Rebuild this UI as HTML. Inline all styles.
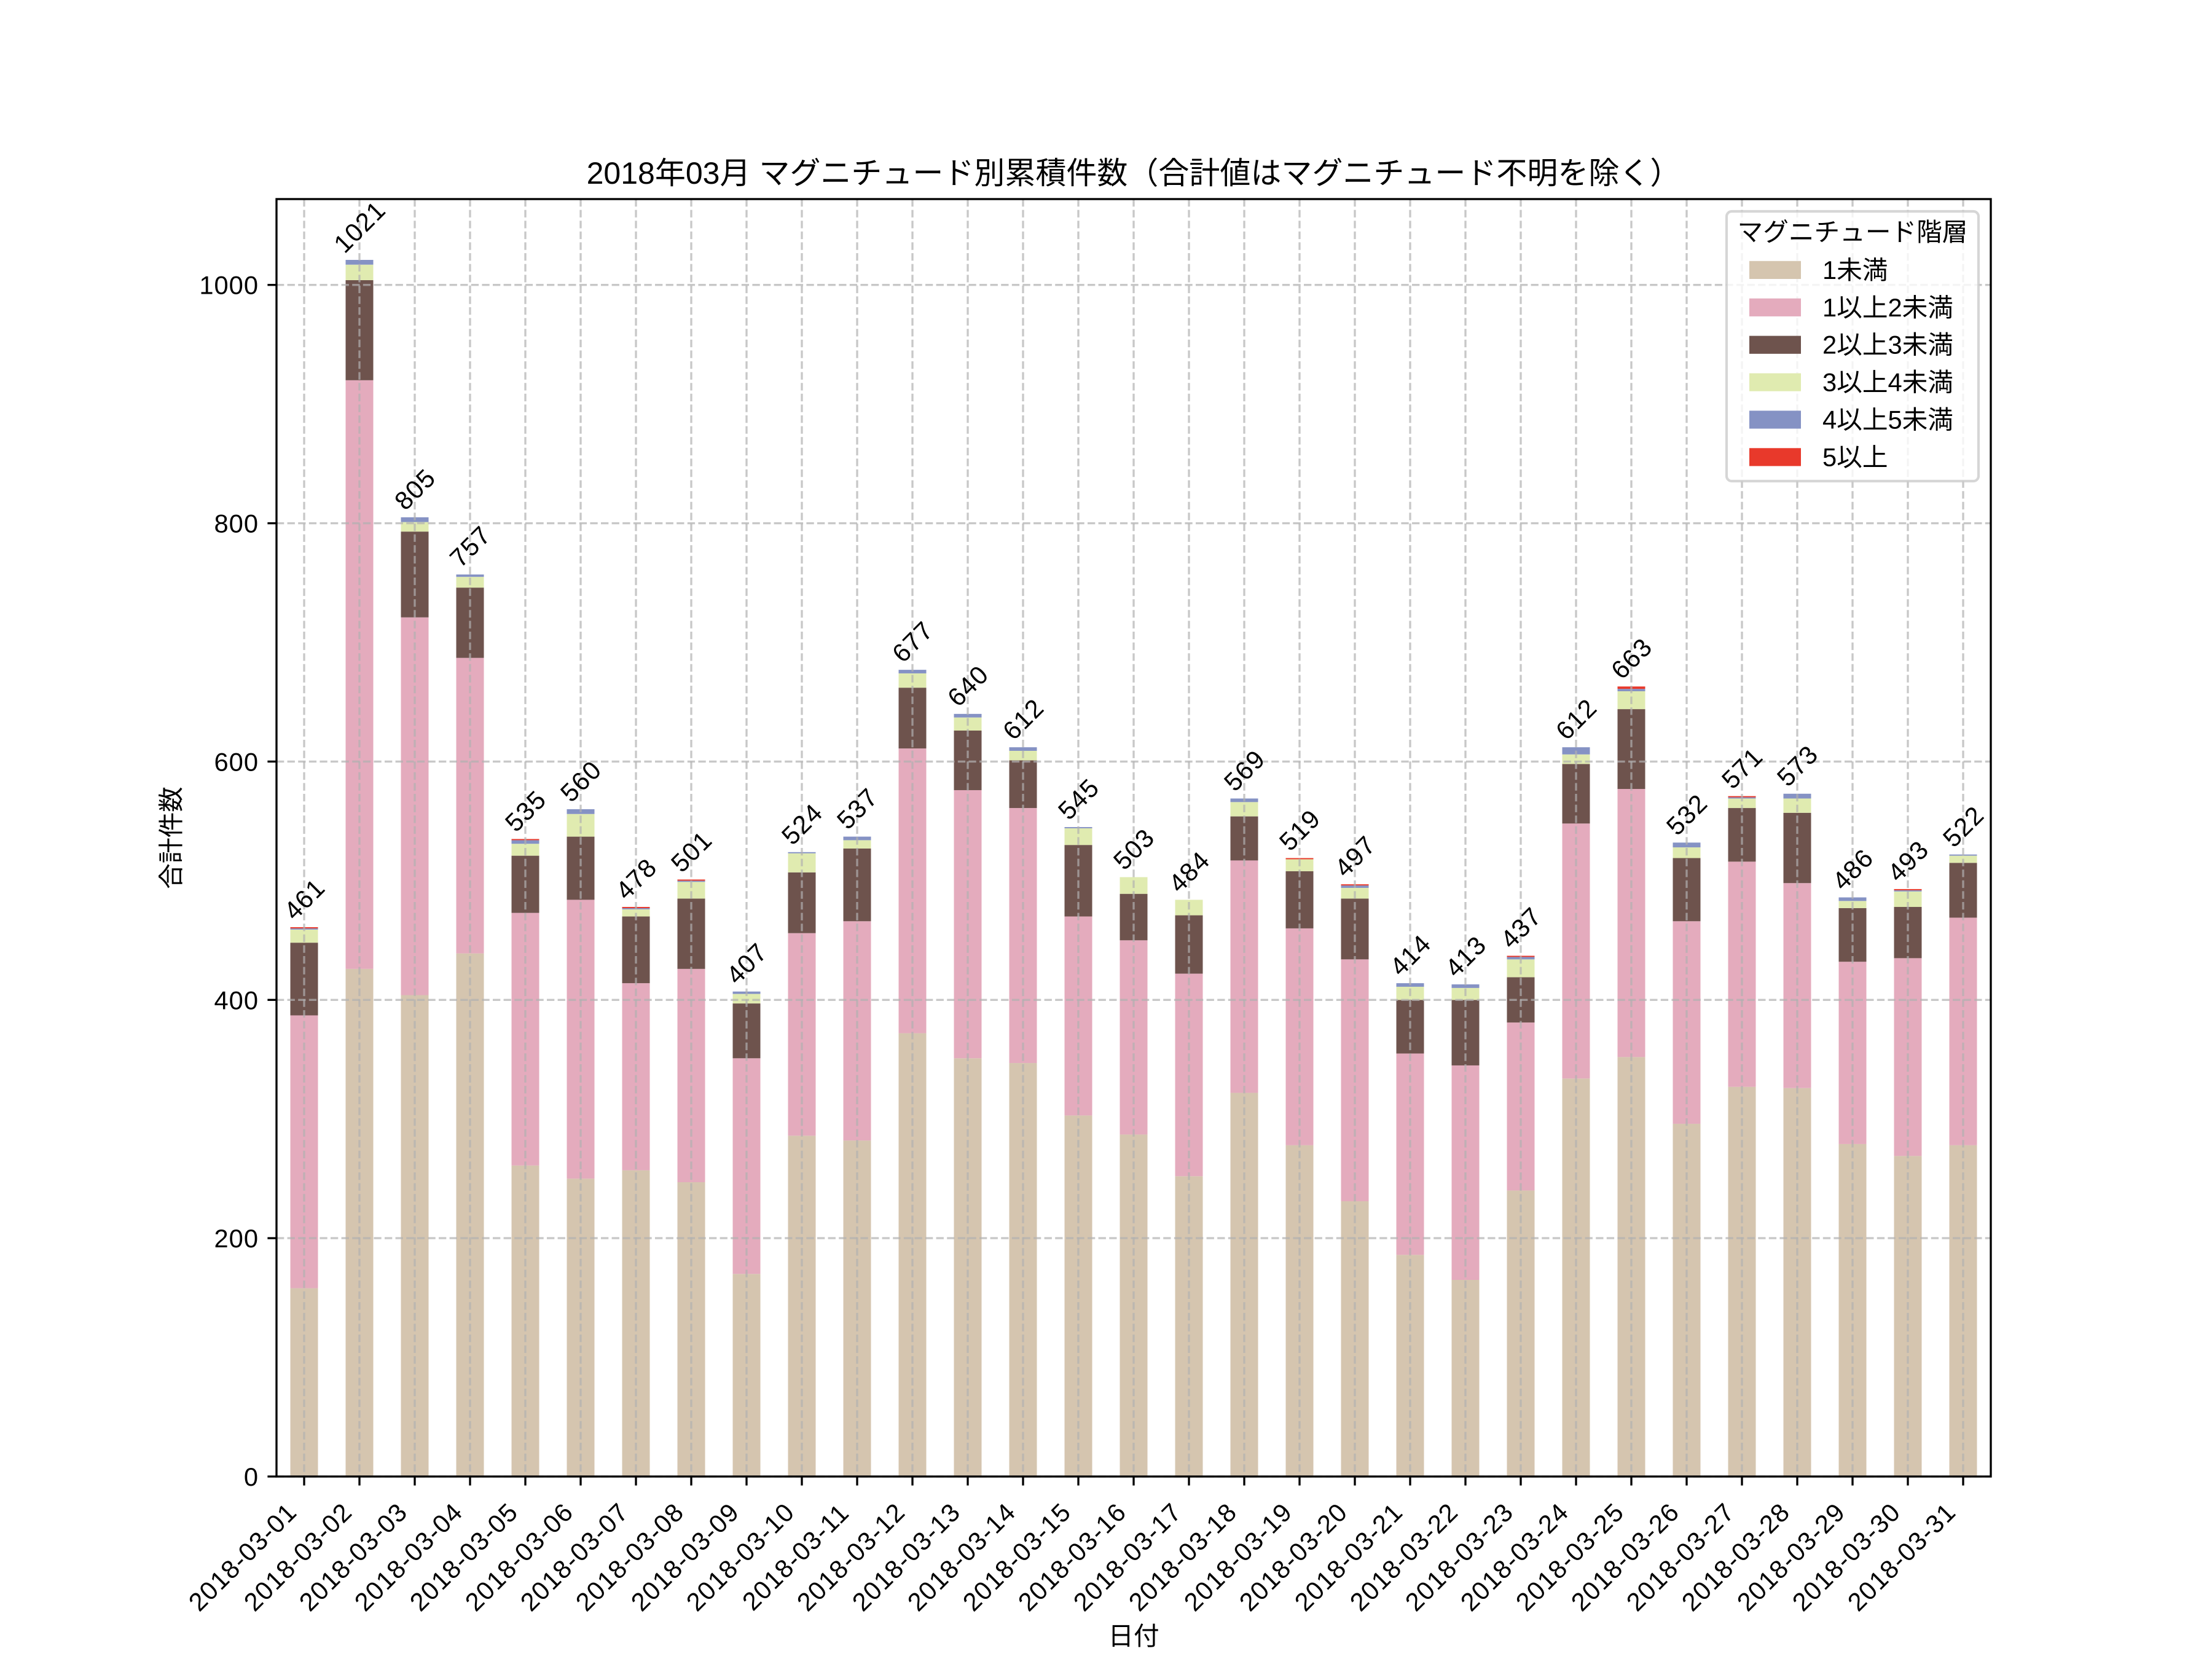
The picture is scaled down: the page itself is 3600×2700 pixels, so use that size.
<!DOCTYPE html>
<html><head><meta charset="utf-8"><style>
html,body{margin:0;padding:0;background:#fff;}
svg{display:block;}
text{font-family:"Liberation Sans","Noto Sans CJK JP",sans-serif;fill:#000;}
.a{fill:#d5c5af}.b{fill:#e4abbd}.c{fill:#6e534d}.d{fill:#e0ebb0}.e{fill:#8592c4}.f{fill:#e8392b}
.g line{stroke:#b0b0b0;stroke-opacity:.7;stroke-width:3.33;stroke-dasharray:12.3 5.3;}
.t line{stroke:#000;stroke-width:3.33;}
.yl text{font-size:41.67px;text-anchor:end;letter-spacing:1px;}
.xl text{font-size:41.67px;text-anchor:middle;letter-spacing:1.5px;}
.an text{font-size:41.67px;text-anchor:middle;letter-spacing:1.5px;}
</style></head><body>
<svg width="3600" height="2700" viewBox="0 0 3600 2700" xmlns="http://www.w3.org/2000/svg">
<rect x="0" y="0" width="3600" height="2700" fill="#fff"/>
<!-- bars -->
<g transform="matrix(90 0 0 -1.9393 495 2403)">
<g transform="translate(0,0)"><rect class="a" x="-0.25" y="0" width="0.5" height="158"/><rect class="b" x="-0.25" y="158" width="0.5" height="229"/><rect class="c" x="-0.25" y="387" width="0.5" height="61"/><rect class="d" x="-0.25" y="448" width="0.5" height="11"/><rect class="e" x="-0.25" y="459" width="0.5" height="1"/><rect class="f" x="-0.25" y="460" width="0.5" height="1"/></g>
<g transform="translate(1,0)"><rect class="a" x="-0.25" y="0" width="0.5" height="426"/><rect class="b" x="-0.25" y="426" width="0.5" height="494"/><rect class="c" x="-0.25" y="920" width="0.5" height="84"/><rect class="d" x="-0.25" y="1004" width="0.5" height="13"/><rect class="e" x="-0.25" y="1017" width="0.5" height="4"/></g>
<g transform="translate(2,0)"><rect class="a" x="-0.25" y="0" width="0.5" height="404"/><rect class="b" x="-0.25" y="404" width="0.5" height="317"/><rect class="c" x="-0.25" y="721" width="0.5" height="72"/><rect class="d" x="-0.25" y="793" width="0.5" height="8"/><rect class="e" x="-0.25" y="801" width="0.5" height="4"/></g>
<g transform="translate(3,0)"><rect class="a" x="-0.25" y="0" width="0.5" height="439"/><rect class="b" x="-0.25" y="439" width="0.5" height="248"/><rect class="c" x="-0.25" y="687" width="0.5" height="59"/><rect class="d" x="-0.25" y="746" width="0.5" height="9"/><rect class="e" x="-0.25" y="755" width="0.5" height="2"/></g>
<g transform="translate(4,0)"><rect class="a" x="-0.25" y="0" width="0.5" height="261"/><rect class="b" x="-0.25" y="261" width="0.5" height="212"/><rect class="c" x="-0.25" y="473" width="0.5" height="48"/><rect class="d" x="-0.25" y="521" width="0.5" height="10"/><rect class="e" x="-0.25" y="531" width="0.5" height="3"/><rect class="f" x="-0.25" y="534" width="0.5" height="1"/></g>
<g transform="translate(5,0)"><rect class="a" x="-0.25" y="0" width="0.5" height="250"/><rect class="b" x="-0.25" y="250" width="0.5" height="234"/><rect class="c" x="-0.25" y="484" width="0.5" height="53"/><rect class="d" x="-0.25" y="537" width="0.5" height="19"/><rect class="e" x="-0.25" y="556" width="0.5" height="4"/></g>
<g transform="translate(6,0)"><rect class="a" x="-0.25" y="0" width="0.5" height="257"/><rect class="b" x="-0.25" y="257" width="0.5" height="157"/><rect class="c" x="-0.25" y="414" width="0.5" height="56"/><rect class="d" x="-0.25" y="470" width="0.5" height="6"/><rect class="e" x="-0.25" y="476" width="0.5" height="1"/><rect class="f" x="-0.25" y="477" width="0.5" height="1"/></g>
<g transform="translate(7,0)"><rect class="a" x="-0.25" y="0" width="0.5" height="247"/><rect class="b" x="-0.25" y="247" width="0.5" height="179"/><rect class="c" x="-0.25" y="426" width="0.5" height="59"/><rect class="d" x="-0.25" y="485" width="0.5" height="14"/><rect class="e" x="-0.25" y="499" width="0.5" height="1"/><rect class="f" x="-0.25" y="500" width="0.5" height="1"/></g>
<g transform="translate(8,0)"><rect class="a" x="-0.25" y="0" width="0.5" height="170"/><rect class="b" x="-0.25" y="170" width="0.5" height="181"/><rect class="c" x="-0.25" y="351" width="0.5" height="46"/><rect class="d" x="-0.25" y="397" width="0.5" height="8"/><rect class="e" x="-0.25" y="405" width="0.5" height="2"/></g>
<g transform="translate(9,0)"><rect class="a" x="-0.25" y="0" width="0.5" height="286"/><rect class="b" x="-0.25" y="286" width="0.5" height="170"/><rect class="c" x="-0.25" y="456" width="0.5" height="51"/><rect class="d" x="-0.25" y="507" width="0.5" height="16"/><rect class="e" x="-0.25" y="523" width="0.5" height="1"/></g>
<g transform="translate(10,0)"><rect class="a" x="-0.25" y="0" width="0.5" height="282"/><rect class="b" x="-0.25" y="282" width="0.5" height="184"/><rect class="c" x="-0.25" y="466" width="0.5" height="61"/><rect class="d" x="-0.25" y="527" width="0.5" height="7"/><rect class="e" x="-0.25" y="534" width="0.5" height="3"/></g>
<g transform="translate(11,0)"><rect class="a" x="-0.25" y="0" width="0.5" height="372"/><rect class="b" x="-0.25" y="372" width="0.5" height="239"/><rect class="c" x="-0.25" y="611" width="0.5" height="51"/><rect class="d" x="-0.25" y="662" width="0.5" height="12"/><rect class="e" x="-0.25" y="674" width="0.5" height="3"/></g>
<g transform="translate(12,0)"><rect class="a" x="-0.25" y="0" width="0.5" height="351"/><rect class="b" x="-0.25" y="351" width="0.5" height="225"/><rect class="c" x="-0.25" y="576" width="0.5" height="50"/><rect class="d" x="-0.25" y="626" width="0.5" height="11"/><rect class="e" x="-0.25" y="637" width="0.5" height="3"/></g>
<g transform="translate(13,0)"><rect class="a" x="-0.25" y="0" width="0.5" height="347"/><rect class="b" x="-0.25" y="347" width="0.5" height="214"/><rect class="c" x="-0.25" y="561" width="0.5" height="40"/><rect class="d" x="-0.25" y="601" width="0.5" height="8"/><rect class="e" x="-0.25" y="609" width="0.5" height="3"/></g>
<g transform="translate(14,0)"><rect class="a" x="-0.25" y="0" width="0.5" height="303"/><rect class="b" x="-0.25" y="303" width="0.5" height="167"/><rect class="c" x="-0.25" y="470" width="0.5" height="60"/><rect class="d" x="-0.25" y="530" width="0.5" height="14"/><rect class="e" x="-0.25" y="544" width="0.5" height="1"/></g>
<g transform="translate(15,0)"><rect class="a" x="-0.25" y="0" width="0.5" height="287"/><rect class="b" x="-0.25" y="287" width="0.5" height="163"/><rect class="c" x="-0.25" y="450" width="0.5" height="39"/><rect class="d" x="-0.25" y="489" width="0.5" height="14"/></g>
<g transform="translate(16,0)"><rect class="a" x="-0.25" y="0" width="0.5" height="252"/><rect class="b" x="-0.25" y="252" width="0.5" height="170"/><rect class="c" x="-0.25" y="422" width="0.5" height="49"/><rect class="d" x="-0.25" y="471" width="0.5" height="13"/></g>
<g transform="translate(17,0)"><rect class="a" x="-0.25" y="0" width="0.5" height="322"/><rect class="b" x="-0.25" y="322" width="0.5" height="195"/><rect class="c" x="-0.25" y="517" width="0.5" height="37"/><rect class="d" x="-0.25" y="554" width="0.5" height="12"/><rect class="e" x="-0.25" y="566" width="0.5" height="3"/></g>
<g transform="translate(18,0)"><rect class="a" x="-0.25" y="0" width="0.5" height="278"/><rect class="b" x="-0.25" y="278" width="0.5" height="182"/><rect class="c" x="-0.25" y="460" width="0.5" height="48"/><rect class="d" x="-0.25" y="508" width="0.5" height="10"/><rect class="f" x="-0.25" y="518" width="0.5" height="1"/></g>
<g transform="translate(19,0)"><rect class="a" x="-0.25" y="0" width="0.5" height="231"/><rect class="b" x="-0.25" y="231" width="0.5" height="203"/><rect class="c" x="-0.25" y="434" width="0.5" height="51"/><rect class="d" x="-0.25" y="485" width="0.5" height="9"/><rect class="e" x="-0.25" y="494" width="0.5" height="2"/><rect class="f" x="-0.25" y="496" width="0.5" height="1"/></g>
<g transform="translate(20,0)"><rect class="a" x="-0.25" y="0" width="0.5" height="186"/><rect class="b" x="-0.25" y="186" width="0.5" height="169"/><rect class="c" x="-0.25" y="355" width="0.5" height="45"/><rect class="d" x="-0.25" y="400" width="0.5" height="11"/><rect class="e" x="-0.25" y="411" width="0.5" height="3"/></g>
<g transform="translate(21,0)"><rect class="a" x="-0.25" y="0" width="0.5" height="165"/><rect class="b" x="-0.25" y="165" width="0.5" height="180"/><rect class="c" x="-0.25" y="345" width="0.5" height="55"/><rect class="d" x="-0.25" y="400" width="0.5" height="10"/><rect class="e" x="-0.25" y="410" width="0.5" height="3"/></g>
<g transform="translate(22,0)"><rect class="a" x="-0.25" y="0" width="0.5" height="240"/><rect class="b" x="-0.25" y="240" width="0.5" height="141"/><rect class="c" x="-0.25" y="381" width="0.5" height="38"/><rect class="d" x="-0.25" y="419" width="0.5" height="15"/><rect class="e" x="-0.25" y="434" width="0.5" height="2"/><rect class="f" x="-0.25" y="436" width="0.5" height="1"/></g>
<g transform="translate(23,0)"><rect class="a" x="-0.25" y="0" width="0.5" height="334"/><rect class="b" x="-0.25" y="334" width="0.5" height="214"/><rect class="c" x="-0.25" y="548" width="0.5" height="50"/><rect class="d" x="-0.25" y="598" width="0.5" height="8"/><rect class="e" x="-0.25" y="606" width="0.5" height="6"/></g>
<g transform="translate(24,0)"><rect class="a" x="-0.25" y="0" width="0.5" height="352"/><rect class="b" x="-0.25" y="352" width="0.5" height="225"/><rect class="c" x="-0.25" y="577" width="0.5" height="67"/><rect class="d" x="-0.25" y="644" width="0.5" height="15"/><rect class="e" x="-0.25" y="659" width="0.5" height="2"/><rect class="f" x="-0.25" y="661" width="0.5" height="2"/></g>
<g transform="translate(25,0)"><rect class="a" x="-0.25" y="0" width="0.5" height="296"/><rect class="b" x="-0.25" y="296" width="0.5" height="170"/><rect class="c" x="-0.25" y="466" width="0.5" height="53"/><rect class="d" x="-0.25" y="519" width="0.5" height="9"/><rect class="e" x="-0.25" y="528" width="0.5" height="4"/></g>
<g transform="translate(26,0)"><rect class="a" x="-0.25" y="0" width="0.5" height="327"/><rect class="b" x="-0.25" y="327" width="0.5" height="189"/><rect class="c" x="-0.25" y="516" width="0.5" height="45"/><rect class="d" x="-0.25" y="561" width="0.5" height="8"/><rect class="e" x="-0.25" y="569" width="0.5" height="1"/><rect class="f" x="-0.25" y="570" width="0.5" height="1"/></g>
<g transform="translate(27,0)"><rect class="a" x="-0.25" y="0" width="0.5" height="326"/><rect class="b" x="-0.25" y="326" width="0.5" height="172"/><rect class="c" x="-0.25" y="498" width="0.5" height="59"/><rect class="d" x="-0.25" y="557" width="0.5" height="12"/><rect class="e" x="-0.25" y="569" width="0.5" height="4"/></g>
<g transform="translate(28,0)"><rect class="a" x="-0.25" y="0" width="0.5" height="279"/><rect class="b" x="-0.25" y="279" width="0.5" height="153"/><rect class="c" x="-0.25" y="432" width="0.5" height="45"/><rect class="d" x="-0.25" y="477" width="0.5" height="6"/><rect class="e" x="-0.25" y="483" width="0.5" height="3"/></g>
<g transform="translate(29,0)"><rect class="a" x="-0.25" y="0" width="0.5" height="269"/><rect class="b" x="-0.25" y="269" width="0.5" height="166"/><rect class="c" x="-0.25" y="435" width="0.5" height="43"/><rect class="d" x="-0.25" y="478" width="0.5" height="13"/><rect class="e" x="-0.25" y="491" width="0.5" height="1"/><rect class="f" x="-0.25" y="492" width="0.5" height="1"/></g>
<g transform="translate(30,0)"><rect class="a" x="-0.25" y="0" width="0.5" height="278"/><rect class="b" x="-0.25" y="278" width="0.5" height="191"/><rect class="c" x="-0.25" y="469" width="0.5" height="46"/><rect class="d" x="-0.25" y="515" width="0.5" height="6"/><rect class="e" x="-0.25" y="521" width="0.5" height="1"/></g>
</g>
<!-- grid -->
<g class="g">
<line x1="450" y1="2403" x2="3240" y2="2403"/>
<line x1="450" y1="2015.1" x2="3240" y2="2015.1"/>
<line x1="450" y1="1627.3" x2="3240" y2="1627.3"/>
<line x1="450" y1="1239.4" x2="3240" y2="1239.4"/>
<line x1="450" y1="851.6" x2="3240" y2="851.6"/>
<line x1="450" y1="463.7" x2="3240" y2="463.7"/>
<line x1="495" y1="324" x2="495" y2="2403"/><line x1="585" y1="324" x2="585" y2="2403"/><line x1="675" y1="324" x2="675" y2="2403"/><line x1="765" y1="324" x2="765" y2="2403"/><line x1="855" y1="324" x2="855" y2="2403"/><line x1="945" y1="324" x2="945" y2="2403"/><line x1="1035" y1="324" x2="1035" y2="2403"/><line x1="1125" y1="324" x2="1125" y2="2403"/><line x1="1215" y1="324" x2="1215" y2="2403"/><line x1="1305" y1="324" x2="1305" y2="2403"/><line x1="1395" y1="324" x2="1395" y2="2403"/><line x1="1485" y1="324" x2="1485" y2="2403"/><line x1="1575" y1="324" x2="1575" y2="2403"/><line x1="1665" y1="324" x2="1665" y2="2403"/><line x1="1755" y1="324" x2="1755" y2="2403"/><line x1="1845" y1="324" x2="1845" y2="2403"/><line x1="1935" y1="324" x2="1935" y2="2403"/><line x1="2025" y1="324" x2="2025" y2="2403"/><line x1="2115" y1="324" x2="2115" y2="2403"/><line x1="2205" y1="324" x2="2205" y2="2403"/><line x1="2295" y1="324" x2="2295" y2="2403"/><line x1="2385" y1="324" x2="2385" y2="2403"/><line x1="2475" y1="324" x2="2475" y2="2403"/><line x1="2565" y1="324" x2="2565" y2="2403"/><line x1="2655" y1="324" x2="2655" y2="2403"/><line x1="2745" y1="324" x2="2745" y2="2403"/><line x1="2835" y1="324" x2="2835" y2="2403"/><line x1="2925" y1="324" x2="2925" y2="2403"/><line x1="3015" y1="324" x2="3015" y2="2403"/><line x1="3105" y1="324" x2="3105" y2="2403"/><line x1="3195" y1="324" x2="3195" y2="2403"/>
</g>
<!-- annotations -->
<g class="an">
<text transform="translate(495,1462.8) rotate(-45)" y="15">461</text>
<text transform="translate(585,368.6) rotate(-45)" y="15">1021</text>
<text transform="translate(675,795.7) rotate(-45)" y="15">805</text>
<text transform="translate(765,888.8) rotate(-45)" y="15">757</text>
<text transform="translate(855,1319.3) rotate(-45)" y="15">535</text>
<text transform="translate(945,1270.8) rotate(-45)" y="15">560</text>
<text transform="translate(1035,1429.8) rotate(-45)" y="15">478</text>
<text transform="translate(1125,1385.2) rotate(-45)" y="15">501</text>
<text transform="translate(1215,1567.5) rotate(-45)" y="15">407</text>
<text transform="translate(1305,1340.6) rotate(-45)" y="15">524</text>
<text transform="translate(1395,1315.4) rotate(-45)" y="15">537</text>
<text transform="translate(1485,1043.9) rotate(-45)" y="15">677</text>
<text transform="translate(1575,1115.6) rotate(-45)" y="15">640</text>
<text transform="translate(1665,1169.9) rotate(-45)" y="15">612</text>
<text transform="translate(1755,1299.9) rotate(-45)" y="15">545</text>
<text transform="translate(1845,1381.3) rotate(-45)" y="15">503</text>
<text transform="translate(1935,1418.2) rotate(-45)" y="15">484</text>
<text transform="translate(2025,1253.3) rotate(-45)" y="15">569</text>
<text transform="translate(2115,1350.3) rotate(-45)" y="15">519</text>
<text transform="translate(2205,1393.0) rotate(-45)" y="15">497</text>
<text transform="translate(2295,1553.9) rotate(-45)" y="15">414</text>
<text transform="translate(2385,1555.9) rotate(-45)" y="15">413</text>
<text transform="translate(2475,1509.3) rotate(-45)" y="15">437</text>
<text transform="translate(2565,1169.9) rotate(-45)" y="15">612</text>
<text transform="translate(2655,1071.0) rotate(-45)" y="15">663</text>
<text transform="translate(2745,1325.1) rotate(-45)" y="15">532</text>
<text transform="translate(2835,1249.5) rotate(-45)" y="15">571</text>
<text transform="translate(2925,1245.6) rotate(-45)" y="15">573</text>
<text transform="translate(3015,1414.3) rotate(-45)" y="15">486</text>
<text transform="translate(3105,1400.7) rotate(-45)" y="15">493</text>
<text transform="translate(3195,1344.5) rotate(-45)" y="15">522</text>
</g>
<!-- legend -->
<rect x="2810" y="344" width="410" height="439" rx="8.3" ry="8.3" fill="#fff" fill-opacity="0.8" stroke="#cccccc" stroke-opacity="0.8" stroke-width="4.17"/>
<text x="3015" y="392" font-size="41.67" text-anchor="middle">マグニチュード階層</text>
<rect class="a" x="2847" y="424.8" width="84" height="29.2"/>
<rect class="b" x="2847" y="485.7" width="84" height="29.2"/>
<rect class="c" x="2847" y="546.6" width="84" height="29.2"/>
<rect class="d" x="2847" y="607.5" width="84" height="29.2"/>
<rect class="e" x="2847" y="668.4" width="84" height="29.2"/>
<rect class="f" x="2847" y="729.3" width="84" height="29.2"/>
<text x="2966" y="453.9" font-size="41.67">1未満</text>
<text x="2966" y="514.8" font-size="41.67">1以上2未満</text>
<text x="2966" y="575.7" font-size="41.67">2以上3未満</text>
<text x="2966" y="636.6" font-size="41.67">3以上4未満</text>
<text x="2966" y="697.5" font-size="41.67">4以上5未満</text>
<text x="2966" y="758.4" font-size="41.67">5以上</text>
<!-- spines -->
<rect x="450" y="324" width="2790" height="2079" fill="none" stroke="#000" stroke-width="3.33"/>
<!-- ticks -->
<g class="t">
<line x1="435.4" y1="2403" x2="450" y2="2403"/><line x1="435.4" y1="2015.1" x2="450" y2="2015.1"/><line x1="435.4" y1="1627.3" x2="450" y2="1627.3"/><line x1="435.4" y1="1239.4" x2="450" y2="1239.4"/><line x1="435.4" y1="851.6" x2="450" y2="851.6"/><line x1="435.4" y1="463.7" x2="450" y2="463.7"/>
<line x1="495" y1="2403" x2="495" y2="2417.6"/><line x1="585" y1="2403" x2="585" y2="2417.6"/><line x1="675" y1="2403" x2="675" y2="2417.6"/><line x1="765" y1="2403" x2="765" y2="2417.6"/><line x1="855" y1="2403" x2="855" y2="2417.6"/><line x1="945" y1="2403" x2="945" y2="2417.6"/><line x1="1035" y1="2403" x2="1035" y2="2417.6"/><line x1="1125" y1="2403" x2="1125" y2="2417.6"/><line x1="1215" y1="2403" x2="1215" y2="2417.6"/><line x1="1305" y1="2403" x2="1305" y2="2417.6"/><line x1="1395" y1="2403" x2="1395" y2="2417.6"/><line x1="1485" y1="2403" x2="1485" y2="2417.6"/><line x1="1575" y1="2403" x2="1575" y2="2417.6"/><line x1="1665" y1="2403" x2="1665" y2="2417.6"/><line x1="1755" y1="2403" x2="1755" y2="2417.6"/><line x1="1845" y1="2403" x2="1845" y2="2417.6"/><line x1="1935" y1="2403" x2="1935" y2="2417.6"/><line x1="2025" y1="2403" x2="2025" y2="2417.6"/><line x1="2115" y1="2403" x2="2115" y2="2417.6"/><line x1="2205" y1="2403" x2="2205" y2="2417.6"/><line x1="2295" y1="2403" x2="2295" y2="2417.6"/><line x1="2385" y1="2403" x2="2385" y2="2417.6"/><line x1="2475" y1="2403" x2="2475" y2="2417.6"/><line x1="2565" y1="2403" x2="2565" y2="2417.6"/><line x1="2655" y1="2403" x2="2655" y2="2417.6"/><line x1="2745" y1="2403" x2="2745" y2="2417.6"/><line x1="2835" y1="2403" x2="2835" y2="2417.6"/><line x1="2925" y1="2403" x2="2925" y2="2417.6"/><line x1="3015" y1="2403" x2="3015" y2="2417.6"/><line x1="3105" y1="2403" x2="3105" y2="2417.6"/><line x1="3195" y1="2403" x2="3195" y2="2417.6"/>
</g>
<!-- y tick labels -->
<g class="yl">
<text x="421" y="2418">0</text>
<text x="421" y="2030.1">200</text>
<text x="421" y="1642.3">400</text>
<text x="421" y="1254.4">600</text>
<text x="421" y="866.6">800</text>
<text x="421" y="478.7">1000</text>
</g>
<!-- x tick labels -->
<g class="xl">
<text transform="translate(405,2544) rotate(-45)">2018-03-01</text>
<text transform="translate(495,2544) rotate(-45)">2018-03-02</text>
<text transform="translate(585,2544) rotate(-45)">2018-03-03</text>
<text transform="translate(675,2544) rotate(-45)">2018-03-04</text>
<text transform="translate(765,2544) rotate(-45)">2018-03-05</text>
<text transform="translate(855,2544) rotate(-45)">2018-03-06</text>
<text transform="translate(945,2544) rotate(-45)">2018-03-07</text>
<text transform="translate(1035,2544) rotate(-45)">2018-03-08</text>
<text transform="translate(1125,2544) rotate(-45)">2018-03-09</text>
<text transform="translate(1215,2544) rotate(-45)">2018-03-10</text>
<text transform="translate(1305,2544) rotate(-45)">2018-03-11</text>
<text transform="translate(1395,2544) rotate(-45)">2018-03-12</text>
<text transform="translate(1485,2544) rotate(-45)">2018-03-13</text>
<text transform="translate(1575,2544) rotate(-45)">2018-03-14</text>
<text transform="translate(1665,2544) rotate(-45)">2018-03-15</text>
<text transform="translate(1755,2544) rotate(-45)">2018-03-16</text>
<text transform="translate(1845,2544) rotate(-45)">2018-03-17</text>
<text transform="translate(1935,2544) rotate(-45)">2018-03-18</text>
<text transform="translate(2025,2544) rotate(-45)">2018-03-19</text>
<text transform="translate(2115,2544) rotate(-45)">2018-03-20</text>
<text transform="translate(2205,2544) rotate(-45)">2018-03-21</text>
<text transform="translate(2295,2544) rotate(-45)">2018-03-22</text>
<text transform="translate(2385,2544) rotate(-45)">2018-03-23</text>
<text transform="translate(2475,2544) rotate(-45)">2018-03-24</text>
<text transform="translate(2565,2544) rotate(-45)">2018-03-25</text>
<text transform="translate(2655,2544) rotate(-45)">2018-03-26</text>
<text transform="translate(2745,2544) rotate(-45)">2018-03-27</text>
<text transform="translate(2835,2544) rotate(-45)">2018-03-28</text>
<text transform="translate(2925,2544) rotate(-45)">2018-03-29</text>
<text transform="translate(3015,2544) rotate(-45)">2018-03-30</text>
<text transform="translate(3105,2544) rotate(-45)">2018-03-31</text>
</g>
<!-- axis labels and title -->
<text x="1845" y="2677" font-size="41.67" text-anchor="middle">日付</text>
<text transform="translate(293,1363.5) rotate(-90)" font-size="41.67" text-anchor="middle">合計件数</text>
<text x="1845" y="299" font-size="50" text-anchor="middle">2018年03月 マグニチュード別累積件数（合計値はマグニチュード不明を除く）</text>
</svg>
</body></html>
